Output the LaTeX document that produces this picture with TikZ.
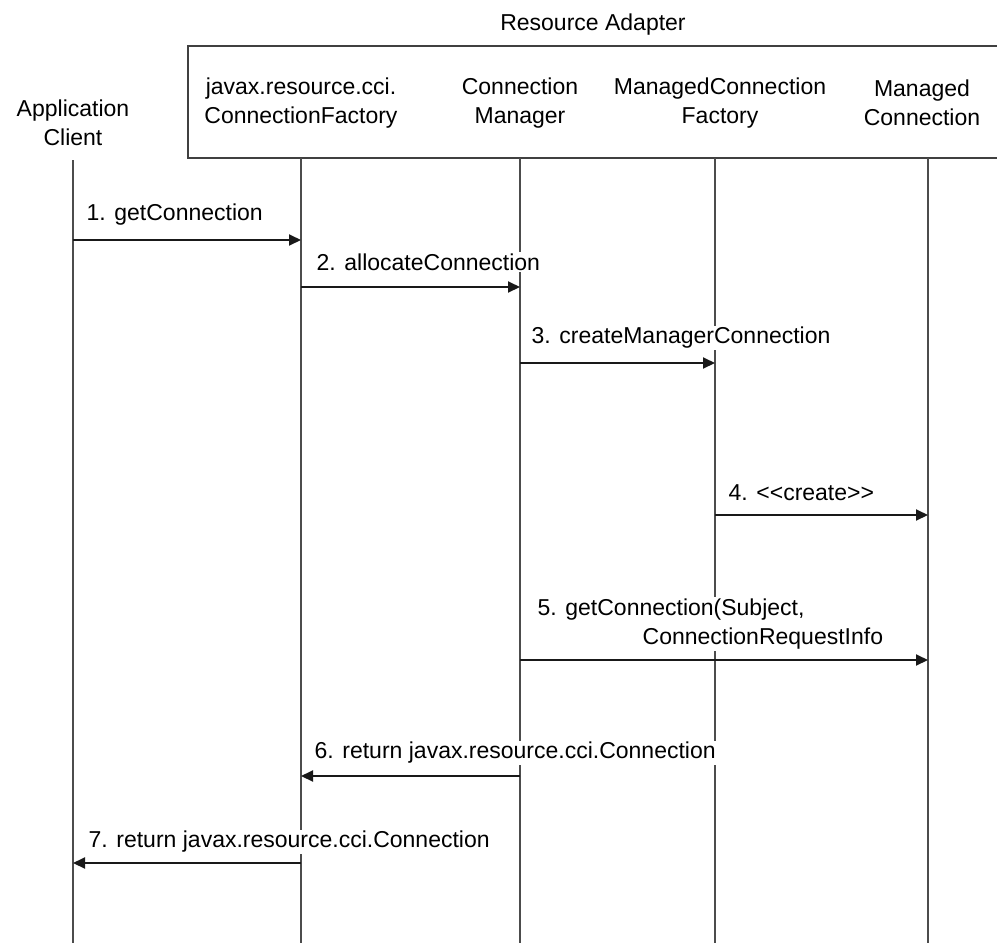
\documentclass[tikz,border=0pt]{standalone}
\usepackage{fontspec}
\setmainfont{Liberation Sans}
\usetikzlibrary{arrows.meta}
\begin{document}
\begin{tikzpicture}[x=1pt,y=-1pt,
  every node/.style={font=\fontsize{23}{29}\selectfont},
  hdr/.style={align=center,inner sep=0pt},
  life/.style={line width=1.8pt,draw=black!70},
  msg/.style={line width=2pt,draw=black!90,-{Triangle[length=12pt,width=11pt]}},
  lbl/.style={anchor=west,fill=white,inner sep=1.5pt}]
\useasboundingbox (0,0) rectangle (997,943);
% lifeline x positions
\coordinate (ac) at (73,0);
\coordinate (cf) at (301,0);
\coordinate (cm) at (520,0);
\coordinate (mcf) at (715,0);
\coordinate (mc) at (928,0);
% header
\node[hdr] (ra) at (593,25) {Resource Adapter};
\draw[line width=1.8pt,draw=black!75] (997,46) -- (188,46) -- (188,158) -- (997,158);
\node[hdr] (hac) at (73,123) {Application\\Client};
\node[hdr] (hcf) at (301,103) {javax.resource.cci.\\ConnectionFactory};
\node[hdr] (hcm) at (520,103) {Connection\\Manager};
\node[hdr] (hmcf) at (720,103) {ManagedConnection\\Factory};
\node[hdr] (hmc) at (922,103) {Managed\\Connection};
% lifelines
\coordinate (acT) at (73,160);  \coordinate (acB) at (73,943);
\coordinate (cfT) at (301,158); \coordinate (cfB) at (301,943);
\coordinate (cmT) at (520,158); \coordinate (cmB) at (520,943);
\coordinate (mcfT) at (715,158); \coordinate (mcfB) at (715,943);
\coordinate (mcT) at (928,158); \coordinate (mcB) at (928,943);
\draw[life] (acT) -- (acB);
\draw[life] (cfT) -- (cfB);
\draw[life] (cmT) -- (cmB);
\draw[life] (mcfT) -- (mcfB);
\draw[life] (mcT) -- (mcB);
% labels
\node[lbl] (l1) at (85,215) {1. getConnection};
\node[lbl] (l2) at (315,262) {2. allocateConnection};
\node[lbl] (l3) at (530,338) {3. createManagerConnection};
\node[lbl] (l4) at (727,493) {4. <{}<create>{}>};
\node[lbl,align=left] (l5) at (536,624) {5. getConnection(Subject,\\\hspace*{105pt}ConnectionRequestInfo};
\node[lbl] (l6) at (313,753) {6. return javax.resource.cci.Connection};
\node[lbl] (l7) at (87,842) {7. return javax.resource.cci.Connection};
% message end points
\coordinate (m1a) at (ac |- 0,240);  \coordinate (m1b) at (cf |- 0,240);
\coordinate (m2a) at (cf |- 0,287);  \coordinate (m2b) at (cm |- 0,287);
\coordinate (m3a) at (cm |- 0,363);  \coordinate (m3b) at (mcf |- 0,363);
\coordinate (m4a) at (mcf |- 0,515); \coordinate (m4b) at (mc |- 0,515);
\coordinate (m5a) at (cm |- 0,660);  \coordinate (m5b) at (mc |- 0,660);
\coordinate (m6a) at (cm |- 0,776);  \coordinate (m6b) at (cf |- 0,776);
\coordinate (m7a) at (cf |- 0,863);  \coordinate (m7b) at (ac |- 0,863);
\draw[msg] (m1a) -- (m1b);
\draw[msg] (m2a) -- (m2b);
\draw[msg] (m3a) -- (m3b);
\draw[msg] (m4a) -- (m4b);
\draw[msg] (m5a) -- (m5b);
\draw[msg] (m6a) -- (m6b);
\draw[msg] (m7a) -- (m7b);
\end{tikzpicture}
\end{document}
